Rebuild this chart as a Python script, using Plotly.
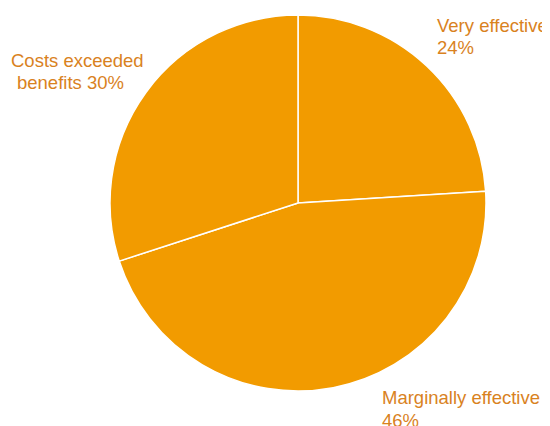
import plotly.graph_objects as go

categories = ["Very effective", "Marginally effective", "Costs exceeded benefits"]
values = [24, 46, 30]
label_lines = [["Very effective", "24%"], ["Marginally effective", "46%"], ["Costs exceeded", "benefits 30%"]]

W, H = 550, 426
off = 8  # page body margin
cx, cy, r = 298 - off, 203 - off, 188

fig = go.Figure(go.Pie(
    labels=categories,
    values=values,
    sort=False,
    direction="clockwise",
    rotation=0,
    marker=dict(colors=["#F29B00"] * 3, line=dict(color="white", width=1.5)),
    textinfo="none",
    hoverinfo="label+percent",
    domain=dict(x=[(cx - r) / W, (cx + r) / W], y=[(H - cy - r) / H, (H - cy + r) / H]),
    showlegend=False,
))

# (x of each line start, y middle of first line), line step
line_pos = [[(427.3, 17.3), (427.3, 39.6)],
            [(372.3, 389.6), (372.3, 412.0)],
            [(1.0, 52.3), (6.7, 74.9)]]
for lines, poss in zip(label_lines, line_pos):
    for txt, (x, y) in zip(lines, poss):
        fig.add_annotation(
            x=x / W, y=1 - y / H, xref="paper", yref="paper",
            xanchor="left", yanchor="middle", align="left",
            text=txt, showarrow=False,
            font=dict(family="Liberation Sans, Arial, sans-serif", size=18.5, color="#D9821E"),
        )

fig.update_layout(
    width=W, height=H,
    margin=dict(l=0, r=0, t=0, b=0),
    paper_bgcolor="white", plot_bgcolor="white",
)

fig.write_html("out.html")
